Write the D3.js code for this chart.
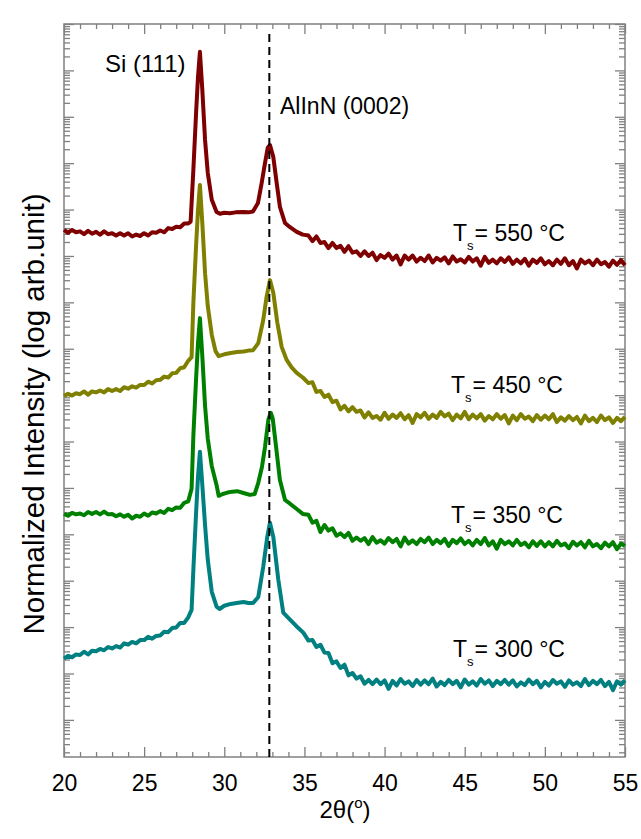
<!DOCTYPE html>
<html>
<head>
<meta charset="utf-8">
<script src="https://cdn.jsdelivr.net/npm/d3@7"></script>
<style>
  body { margin: 0; background: #fff; }
  text { font-family: "Liberation Sans", Arial, sans-serif; fill: #000; }
</style>
</head>
<body>
<div id="content"></div>
<script>
// scan angles (2theta, deg) and log10 intensity
let leftAngles = [20, 20.25, 20.5, 20.75, 21, 21.25, 21.5, 21.75, 22, 22.25, 22.5, 22.75, 23, 23.25, 23.5, 23.75,
  24, 24.25, 24.5, 24.75, 25, 25.25, 25.5, 25.75, 26, 26.25, 26.5, 26.75, 27, 27.25, 27.5, 27.75];

let tailAngles = [35.25, 35.5, 35.75, 36, 36.25, 36.5, 36.75, 37, 37.25, 37.5, 37.75, 38, 38.25, 38.5, 38.75, 39,
  39.25, 39.5, 39.75, 40, 40.25, 40.5, 40.75, 41, 41.25, 41.5, 41.75, 42, 42.25, 42.5, 42.75, 43,
  43.25, 43.5, 43.75, 44, 44.25, 44.5, 44.75, 45, 45.25, 45.5, 45.75, 46, 46.25, 46.5, 46.75, 47,
  47.25, 47.5, 47.75, 48, 48.25, 48.5, 48.75, 49, 49.25, 49.5, 49.75, 50, 50.25, 50.5, 50.75, 51,
  51.25, 51.5, 51.75, 52, 52.25, 52.5, 52.75, 53, 53.25, 53.5, 53.75, 54, 54.25, 54.5, 54.75, 55];

// Ts = 550 C
let red550Left = [11.56, 11.50, 11.56, 11.51, 11.53, 11.47, 11.54, 11.48, 11.52, 11.46, 11.53, 11.47, 11.49, 11.44, 11.49, 11.44,
  11.49, 11.42, 11.46, 11.43, 11.49, 11.44, 11.51, 11.50, 11.55, 11.51, 11.60, 11.58, 11.63, 11.62, 11.70, 11.70];
let red550Peaks = [[27.9, 11.74], [28.07, 12.85], [28.24, 14.08], [28.36, 14.86], [28.48, 15.40], [28.63, 14.58], [28.8, 13.50],
  [28.97, 12.79], [29.22, 12.21], [29.52, 11.95], [29.73, 11.91], [30.0, 11.93], [30.35, 11.92], [30.7, 11.94], [31.17, 11.95],
  [31.5, 11.94], [31.79, 11.96], [32.1, 12.14], [32.33, 12.57], [32.54, 13.00], [32.71, 13.33], [32.85, 13.39], [33.06, 13.13],
  [33.27, 12.57], [33.47, 12.06], [33.79, 11.71], [34.1, 11.62], [34.52, 11.52], [34.9, 11.46]];
let red550Tail = [11.44, 11.32, 11.42, 11.28, 11.30, 11.17, 11.28, 11.17, 11.22, 11.09,
  11.21, 11.07, 11.10, 11.00, 11.10, 11.00, 11.07, 10.91, 11.02, 10.96,
  11.05, 10.92, 11.01, 10.82, 11.01, 10.92, 11.01, 10.88, 10.96, 10.89,
  11.01, 10.86, 10.96, 10.90, 10.97, 10.84, 10.99, 10.88, 10.93, 10.86,
  10.98, 10.88, 10.95, 10.79, 10.98, 10.85, 10.92, 10.84, 10.95, 10.87,
  10.97, 10.83, 10.92, 10.84, 10.94, 10.79, 10.92, 10.85, 10.95, 10.82,
  10.89, 10.80, 10.92, 10.83, 10.95, 10.80, 10.89, 10.73, 10.92, 10.84,
  10.90, 10.80, 10.92, 10.82, 10.87, 10.77, 10.90, 10.81, 10.91, 10.80];

// Ts = 450 C
let olive450Left = [7.98, 8.03, 7.99, 8.04, 8.02, 8.08, 8.01, 8.08, 8.06, 8.10, 8.06, 8.13, 8.09, 8.13, 8.09, 8.17,
  8.14, 8.19, 8.16, 8.22, 8.22, 8.29, 8.25, 8.32, 8.33, 8.40, 8.38, 8.47, 8.48, 8.58, 8.60, 8.74];
let olive450Peaks = [[27.96, 8.82], [28.07, 9.99], [28.24, 11.22], [28.36, 11.99], [28.48, 12.53], [28.63, 11.71], [28.8, 10.63],
  [28.97, 9.92], [29.22, 9.30], [29.45, 8.95], [29.65, 8.84], [30.0, 8.88], [30.4, 8.91], [30.8, 8.93], [31.2, 8.94],
  [31.5, 8.96], [31.8, 8.97], [32.12, 9.12], [32.43, 9.62], [32.64, 10.12], [32.85, 10.48], [33.06, 10.20], [33.31, 9.56],
  [33.58, 9.04], [33.89, 8.76], [34.2, 8.60], [34.52, 8.48], [34.9, 8.38]];
let olive450Tail = [8.26, 8.28, 8.07, 8.09, 7.96, 8.01, 7.85, 7.88, 7.69, 7.77,
  7.65, 7.74, 7.64, 7.67, 7.52, 7.63, 7.51, 7.55, 7.47, 7.62,
  7.49, 7.58, 7.51, 7.61, 7.48, 7.57, 7.40, 7.59, 7.52, 7.62,
  7.49, 7.58, 7.51, 7.64, 7.54, 7.60, 7.46, 7.58, 7.50, 7.64,
  7.48, 7.58, 7.50, 7.59, 7.45, 7.55, 7.48, 7.59, 7.49, 7.57,
  7.39, 7.56, 7.46, 7.59, 7.49, 7.54, 7.44, 7.57, 7.47, 7.56,
  7.48, 7.59, 7.42, 7.52, 7.45, 7.55, 7.46, 7.53, 7.39, 7.56,
  7.44, 7.51, 7.42, 7.56, 7.46, 7.52, 7.40, 7.51, 7.44, 7.53];

// Ts = 350 C
let green350Left = [5.44, 5.40, 5.46, 5.43, 5.45, 5.41, 5.48, 5.44, 5.48, 5.43, 5.49, 5.43, 5.44, 5.39, 5.43, 5.38,
  5.42, 5.34, 5.40, 5.38, 5.45, 5.40, 5.47, 5.45, 5.50, 5.46, 5.55, 5.52, 5.58, 5.57, 5.68, 5.71];
let green350Peaks = [[27.96, 5.98], [28.07, 7.12], [28.24, 8.35], [28.36, 9.12], [28.48, 9.66], [28.63, 8.84], [28.8, 7.77],
  [28.97, 7.06], [29.22, 6.47], [29.52, 6.06], [29.65, 5.83], [29.9, 5.87], [30.2, 5.90], [30.5, 5.92], [30.8, 5.93],
  [31.2, 5.89], [31.6, 5.85], [31.9, 5.87], [32.12, 6.11], [32.35, 6.45], [32.54, 6.88], [32.75, 7.47], [32.9, 7.62],
  [33.02, 7.50], [33.16, 7.10], [33.47, 6.17], [33.79, 5.74], [34.1, 5.66], [34.5, 5.55], [34.9, 5.44]];
let green350Tail = [5.42, 5.25, 5.29, 5.05, 5.20, 5.08, 5.13, 4.97, 5.02, 4.94,
  5.03, 4.86, 4.93, 4.86, 4.92, 4.79, 4.94, 4.82, 4.87, 4.80,
  4.92, 4.83, 4.90, 4.74, 4.93, 4.80, 4.87, 4.79, 4.90, 4.83,
  4.93, 4.79, 4.88, 4.81, 4.90, 4.75, 4.88, 4.81, 4.91, 4.79,
  4.86, 4.76, 4.88, 4.79, 4.92, 4.76, 4.85, 4.69, 4.88, 4.79,
  4.85, 4.76, 4.88, 4.77, 4.82, 4.72, 4.85, 4.75, 4.85, 4.74,
  4.83, 4.74, 4.86, 4.76, 4.80, 4.70, 4.84, 4.76, 4.83, 4.72,
  4.86, 4.74, 4.79, 4.70, 4.82, 4.74, 4.83, 4.68, 4.80, 4.75];

// Ts = 300 C
let teal300Left = [2.32, 2.38, 2.35, 2.41, 2.40, 2.47, 2.41, 2.49, 2.48, 2.53, 2.50, 2.57, 2.54, 2.59, 2.56, 2.65,
  2.62, 2.68, 2.65, 2.72, 2.72, 2.79, 2.75, 2.81, 2.82, 2.90, 2.89, 2.98, 2.99, 3.09, 3.09, 3.21];
let teal300Peaks = [[27.96, 3.37], [28.07, 4.23], [28.24, 5.46], [28.36, 6.24], [28.48, 6.78], [28.63, 6.06], [28.8, 5.20],
  [28.97, 4.45], [29.22, 3.76], [29.52, 3.44], [29.7, 3.39], [30.0, 3.46], [30.4, 3.50], [30.77, 3.52], [31.2, 3.54],
  [31.5, 3.52], [31.8, 3.52], [32.12, 3.65], [32.43, 4.30], [32.68, 4.94], [32.85, 5.25], [33.06, 4.94], [33.37, 4.02],
  [33.68, 3.31], [34.1, 3.16], [34.5, 3.02], [34.93, 2.88]];
let teal300Tail = [2.71, 2.72, 2.57, 2.62, 2.45, 2.44, 2.22, 2.26, 2.12, 2.19,
  1.96, 2.01, 1.89, 1.94, 1.78, 1.86, 1.77, 1.87, 1.77, 1.85,
  1.67, 1.84, 1.74, 1.88, 1.78, 1.83, 1.73, 1.86, 1.76, 1.85,
  1.77, 1.89, 1.72, 1.82, 1.75, 1.86, 1.77, 1.84, 1.70, 1.87,
  1.76, 1.83, 1.74, 1.88, 1.78, 1.85, 1.73, 1.84, 1.77, 1.86,
  1.76, 1.85, 1.72, 1.81, 1.75, 1.87, 1.77, 1.84, 1.70, 1.82,
  1.74, 1.86, 1.78, 1.83, 1.71, 1.85, 1.76, 1.81, 1.73, 1.88,
  1.75, 1.84, 1.77, 1.86, 1.73, 1.82, 1.64, 1.83, 1.76, 1.85];

let temps = [550, 450, 350, 300];
let colors = ['#7f0000', '#808000', '#008000', '#008080'];
let xTickLabels = [20, 25, 30, 35, 40, 45, 50, 55];
let alinnLine = 32.81;

function joinScan(lowPart, peaks, tail) {
  return leftAngles.map((a, i) => [a, lowPart[i]])
    .concat(peaks)
    .concat(tailAngles.map((a, i) => [a, tail[i]]));
}

let series = [
  joinScan(red550Left, red550Peaks, red550Tail),
  joinScan(olive450Left, olive450Peaks, olive450Tail),
  joinScan(green350Left, green350Peaks, green350Tail),
  joinScan(teal300Left, teal300Peaks, teal300Tail)
];

const W = 641, H = 839;
const pLeft = 64, pRight = 625, pTop = 24, pBottom = 757;

let svg = d3.select('#content').append('svg')
  .attr('width', W)
  .attr('height', H);

let x = d3.scaleLinear().domain([20, 55]).range([pLeft, pRight]);
let y = d3.scaleLog().domain([Math.pow(10, 0.2), 1e16]).range([pBottom, pTop]);

// log ticks: decades and 2..9 in between
let decades = [], minors = [];
for (let k = 0; k <= 16; k++) {
  for (let m = 1; m <= 9; m++) {
    let v = m * Math.pow(10, k);
    if (v < y.domain()[0] || v > y.domain()[1] * 1.0001) continue;
    (m === 1 ? decades : minors).push(v);
  }
}
let xMinor = d3.range(20, 56, 1).filter(d => d % 5 !== 0);

const axisColor = '#808080';

function styleAxis(g) {
  g.select('.domain').remove();
  g.selectAll('line').attr('stroke', axisColor).attr('stroke-width', 1.3);
}

// bottom
svg.append('g').attr('transform', `translate(0,${pBottom})`)
  .call(d3.axisBottom(x).tickValues(xTickLabels).tickSize(-10).tickPadding(18).tickSizeOuter(0))
  .call(styleAxis)
  .selectAll('text').attr('font-size', 23).attr('font-family', '"Liberation Sans", Arial, sans-serif').attr('fill', '#000');
svg.append('g').attr('transform', `translate(0,${pBottom})`)
  .call(d3.axisBottom(x).tickValues(xMinor).tickSize(-5).tickFormat('').tickSizeOuter(0))
  .call(styleAxis);
// top
svg.append('g').attr('transform', `translate(0,${pTop})`)
  .call(d3.axisTop(x).tickValues(xTickLabels).tickSize(-10).tickFormat('').tickSizeOuter(0))
  .call(styleAxis);
svg.append('g').attr('transform', `translate(0,${pTop})`)
  .call(d3.axisTop(x).tickValues(xMinor).tickSize(-5).tickFormat('').tickSizeOuter(0))
  .call(styleAxis);
// left
svg.append('g').attr('transform', `translate(${pLeft},0)`)
  .call(d3.axisLeft(y).tickValues(decades).tickSize(-10).tickFormat('').tickSizeOuter(0))
  .call(styleAxis);
svg.append('g').attr('transform', `translate(${pLeft},0)`)
  .call(d3.axisLeft(y).tickValues(minors).tickSize(-6).tickFormat('').tickSizeOuter(0))
  .call(styleAxis);
// right
svg.append('g').attr('transform', `translate(${pRight},0)`)
  .call(d3.axisRight(y).tickValues(decades).tickSize(-10).tickFormat('').tickSizeOuter(0))
  .call(styleAxis);
svg.append('g').attr('transform', `translate(${pRight},0)`)
  .call(d3.axisRight(y).tickValues(minors).tickSize(-6).tickFormat('').tickSizeOuter(0))
  .call(styleAxis);

// frame
svg.append('rect')
  .attr('x', pLeft).attr('y', pTop)
  .attr('width', pRight - pLeft).attr('height', pBottom - pTop)
  .attr('fill', 'none')
  .attr('stroke', axisColor)
  .attr('stroke-width', 1.5);

// curves
let line = d3.line()
  .x(d => x(d[0]))
  .y(d => y(Math.pow(10, d[1])));

svg.selectAll('path.scan')
  .data(series)
  .join('path')
  .attr('class', 'scan')
  .attr('d', line)
  .attr('fill', 'none')
  .attr('stroke', (d, i) => colors[i])
  .attr('stroke-width', 4)
  .attr('stroke-linejoin', 'round');

// AlInN (0002) reference line
svg.append('line')
  .attr('x1', x(alinnLine)).attr('x2', x(alinnLine))
  .attr('y1', pTop + 10).attr('y2', pBottom)
  .attr('stroke', '#000')
  .attr('stroke-width', 2)
  .attr('stroke-dasharray', '8,5');

// annotations
svg.append('text').attr('x', 105).attr('y', 72).attr('font-size', 24).text('Si (111)');
svg.append('text').attr('x', 280).attr('y', 114).attr('font-size', 23).text('AlInN (0002)');

let labelPos = [[453, 241], [451, 393], [451, 523], [453, 657]];
temps.forEach((t, i) => {
  let txt = svg.append('text')
    .attr('x', labelPos[i][0]).attr('y', labelPos[i][1])
    .attr('font-size', 23);
  txt.append('tspan').text('T');
  txt.append('tspan').attr('font-size', 13).attr('dy', 9).text('s');
  txt.append('tspan').attr('dy', -9).attr('dx', 1).text(`= ${t} °C`);
});

// axis titles
let xt = svg.append('text')
  .attr('x', 345).attr('y', 818)
  .attr('text-anchor', 'middle')
  .attr('font-size', 24);
xt.append('tspan').text('2θ(');
xt.append('tspan').attr('font-size', 15).attr('dy', -10).text('o');
xt.append('tspan').attr('dy', 10).text(')');

svg.append('text')
  .attr('transform', 'translate(44,414) rotate(-90)')
  .attr('text-anchor', 'middle')
  .attr('font-size', 29.5)
  .text('Normalized Intensity (log arb.unit)');
</script>
</body>
</html>
